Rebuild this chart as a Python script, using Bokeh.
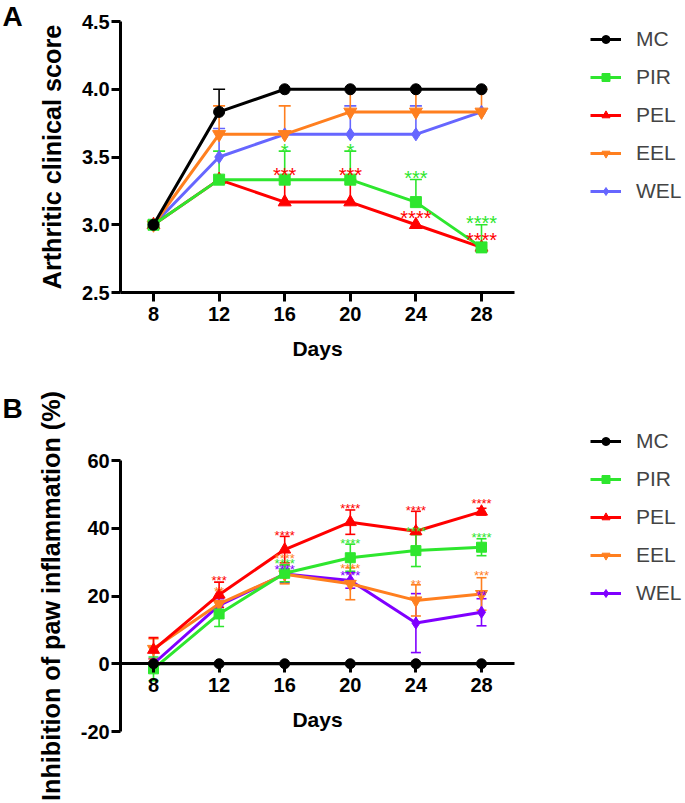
from bokeh.plotting import figure
from bokeh.models import (Range1d, FixedTicker, Whisker, TeeHead, ColumnDataSource,
                          Legend, LegendItem, Label, NumeralTickFormatter)
from bokeh.layouts import column
from bokeh.embed import file_html
from bokeh.resources import INLINE
from bokeh.core.properties import value

# ---------------- data ----------------
days = [8, 12, 16, 20, 24, 28]
series_names = ["MC", "PIR", "PEL", "EEL", "WEL"]
markers = ["circle", "square", "triangle", "inverted_triangle", "diamond"]

# Panel A: arthritic clinical score (mean, +SD)
a_mc = [3.0, 3.833, 4.0, 4.0, 4.0, 4.0]
a_mc_err = [0, 0.167, 0, 0, 0, 0]
a_pir = [3.0, 3.333, 3.333, 3.333, 3.167, 2.833]
a_pir_err = [0, 0.21, 0.21, 0.21, 0.167, 0.167]
a_pel = [3.0, 3.333, 3.167, 3.167, 3.0, 2.833]
a_pel_err = [0, 0, 0.167, 0.167, 0, 0]
a_eel = [3.0, 3.667, 3.667, 3.833, 3.833, 3.833]
a_eel_err = [0, 0.21, 0.21, 0.167, 0.167, 0.167]
a_wel = [3.0, 3.5, 3.667, 3.667, 3.667, 3.833]
a_wel_err = [0, 0.21, 0, 0.21, 0.21, 0]
a_colors = ["#000000", "#2EE62E", "#FF0000", "#FF7F1F", "#6666FF"]
a_yticks = [2.5, 3.0, 3.5, 4.0, 4.5]

a_star_x = [16, 20, 16, 20, 24, 24, 28, 28]
a_star_y = [3.58, 3.58, 3.40, 3.40, 3.376, 3.08, 3.044, 2.92]
a_star_text = ["*", "*", "***", "***", "***", "****", "****", "****"]
a_star_series = ["PIR", "PIR", "PEL", "PEL", "PIR", "PEL", "PIR", "PEL"]

# Panel B: inhibition of paw inflammation (%) (mean, ±SD)
b_mc = [0, 0, 0, 0, 0, 0]
b_mc_err = [0, 0, 0, 0, 0, 0]
b_pir = [-1.5, 14.7, 26.7, 31.3, 33.4, 34.4]
b_pir_err = [3.5, 3.7, 2.5, 4.0, 4.7, 2.5]
b_pel = [4.1, 20.4, 33.7, 41.8, 39.1, 44.9]
b_pel_err = [3.6, 3.7, 3.9, 3.6, 5.9, 1.0]
b_eel = [4.4, 17.7, 26.4, 23.6, 18.7, 20.6]
b_eel_err = [3.0, 2.0, 2.8, 4.7, 4.6, 4.8]
b_wel = [0.0, 17.2, 26.5, 24.6, 12.0, 15.2]
b_wel_err = [1.5, 2.0, 2.5, 2.3, 8.7, 4.0]
b_colors = ["#000000", "#2EE62E", "#FF0000", "#FF7F1F", "#7F00FF"]
b_yticks = [-20, 0, 20, 40, 60]

b_star_x = [12, 12, 16, 16, 16, 16, 20, 20, 20, 20, 24, 24, 24, 28, 28, 28, 28]
b_star_y = [25.5, 22.3, 38.8, 31.9, 30.5, 28.8, 46.7, 36.4, 29.0, 27.0, 46.0, 39.8, 24.4,
            48.2, 38.3, 27.0, 20.9]
b_star_text = ["***", "**", "****", "****", "****", "****", "****", "****", "****", "****",
               "****", "****", "**", "****", "****", "***", "**"]
b_star_series = ["PEL", "EEL", "PEL", "EEL", "PIR", "WEL", "PEL", "PIR", "EEL", "WEL",
                 "PEL", "PIR", "EEL", "PEL", "PIR", "EEL", "WEL"]

FONT = "Liberation Sans"
W = 685
X_LEFT_PX = 153          # pixel position of day 8
PX_PER_DAY = 16.4
X_START = 8 - X_LEFT_PX / PX_PER_DAY
X_END = X_START + W / PX_PER_DAY
LEGEND_H = 176


def style_axes(p):
    for ax in (p.xaxis[0], p.yaxis[0]):
        ax.axis_line_width = 3
        ax.axis_line_color = "black"
        ax.major_tick_line_width = 3
        ax.major_tick_line_color = "black"
        ax.major_tick_out = 9
        ax.major_tick_in = 0
        ax.minor_tick_line_color = None
        ax.major_label_text_font = FONT
        ax.major_label_text_font_size = "20px"
        ax.major_label_text_font_style = "bold"
        ax.major_label_text_color = "black"
        ax.axis_label_text_font = FONT
        ax.axis_label_text_font_style = "bold"
        ax.axis_label_text_color = "black"
    p.xaxis[0].major_label_standoff = 5
    p.xaxis[0].axis_label_text_font_size = "21px"
    p.xaxis[0].axis_label_standoff = 13
    p.yaxis[0].major_label_standoff = 2
    p.yaxis[0].axis_label_text_font_size = "25.2px"
    p.yaxis[0].axis_label_standoff = 13


def make_panel(H, frame_top_px, px_per_unit, ybounds, means, errs, colors, yticks, yfmt,
               ylabel, two_sided, xaxis_at, star_x, star_y, star_text, star_series,
               star_size, star_offset, msize, tee, letter, letter_top, legend_top):
    y_end = ybounds[1] + frame_top_px / px_per_unit
    y_start = y_end - H / px_per_unit
    p = figure(width=W, height=H,
               x_range=Range1d(X_START, X_END), y_range=Range1d(y_start, y_end),
               output_backend="svg", toolbar_location=None,
               min_border=0, min_border_left=0, min_border_right=0,
               min_border_top=0, min_border_bottom=0)
    p.title.visible = False
    p.outline_line_color = None
    p.grid.visible = False
    p.background_fill_color = "white"
    p.border_fill_color = "white"
    p.xaxis.ticker = FixedTicker(ticks=days)
    p.yaxis.ticker = FixedTicker(ticks=yticks)
    p.yaxis.formatter = NumeralTickFormatter(format=yfmt)
    p.xaxis.axis_label = "Days"
    p.yaxis.axis_label = ylabel
    p.xaxis.bounds = (6, 30)
    p.yaxis.bounds = ybounds
    p.xaxis[0].fixed_location = xaxis_at
    p.yaxis[0].fixed_location = 6
    style_axes(p)

    items = {}
    for i in reversed(range(len(series_names))):
        c = colors[i]
        m = means[i]
        e = errs[i]
        xs = [d for d, ee in zip(days, e) if ee > 0]
        hi = [mm + ee for mm, ee in zip(m, e) if ee > 0]
        lo = [(mm - ee) if two_sided else mm for mm, ee in zip(m, e) if ee > 0]
        if xs:
            wsrc = ColumnDataSource(dict(x=xs, hi=hi, lo=lo))
            w = Whisker(source=wsrc, base="x", upper="hi", lower="lo", dimension="height",
                        line_color=c, line_width=1.6,
                        upper_head=TeeHead(size=tee, line_color=c, line_width=1.6),
                        lower_head=(TeeHead(size=tee, line_color=c, line_width=1.6)
                                    if two_sided else None),
                        level="underlay")
            p.add_layout(w)
        src = ColumnDataSource(dict(x=days, y=m))
        lr = p.line("x", "y", source=src, line_color=c, line_width=3)
        sz = msize + (2 if markers[i] in ("triangle", "inverted_triangle", "diamond") else 0)
        sr = p.scatter("x", "y", source=src, marker=markers[i], size=sz,
                       fill_color=c, line_color=c)
        items[series_names[i]] = [lr, sr]

    cmap = dict(zip(series_names, colors))
    ssrc = ColumnDataSource(dict(x=star_x, y=star_y, t=star_text,
                                 c=[cmap[s] for s in star_series]))
    p.text("x", "y", text="t", source=ssrc, text_color="c",
           text_font=value(FONT), text_font_size=value(star_size),
           text_align="center", text_baseline="middle", y_offset=star_offset)

    legend = Legend(items=[LegendItem(label=n, renderers=items[n]) for n in series_names],
                    location=(590, H - legend_top - LEGEND_H), orientation="vertical",
                    glyph_width=31, glyph_height=20, label_standoff=15, label_height=20,
                    label_text_font=FONT, label_text_font_size="21px",
                    spacing=14, padding=0, margin=0,
                    border_line_color=None, background_fill_alpha=0)
    p.add_layout(legend)

    p.add_layout(Label(x=2, y=H - letter_top, x_units="screen", y_units="screen",
                       text=letter, text_font=FONT, text_font_size="28px",
                       text_font_style="bold", text_align="left", text_baseline="top",
                       text_color="black"))
    return p


pA = make_panel(385, 21, 135.5, (2.5, 4.5),
                [a_mc, a_pir, a_pel, a_eel, a_wel],
                [a_mc_err, a_pir_err, a_pel_err, a_eel_err, a_wel_err],
                a_colors, a_yticks, "0.0", "Arthritic clinical score", False, 2.5,
                a_star_x, a_star_y, a_star_text, a_star_series, "20px", 4.5,
                11, 12, "A", 0, 26.5)

pB = make_panel(418, 75, 271 / 80, (-20, 60),
                [b_mc, b_pir, b_pel, b_eel, b_wel],
                [b_mc_err, b_pir_err, b_pel_err, b_eel_err, b_wel_err],
                b_colors, b_yticks, "0", "Inhibition of paw inflammation (%)", True, 0,
                b_star_x, b_star_y, b_star_text, b_star_series, "13px", 3,
                10, 10, "B", 7, 43.5)

layout = column(pA, pB)
open("out.html", "w").write(file_html(layout, INLINE))
